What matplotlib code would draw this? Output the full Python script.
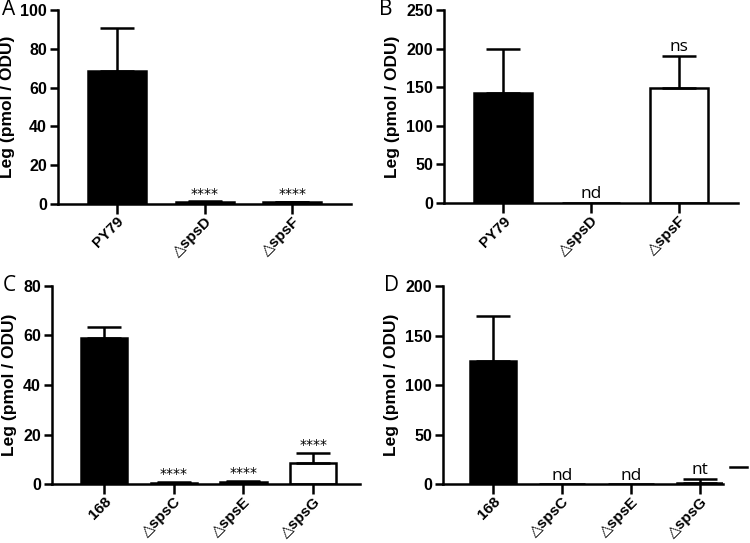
import numpy as np
import matplotlib.pyplot as plt
from matplotlib.lines import Line2D

plt.rcParams['font.family'] = ['Liberation Sans', 'DejaVu Sans']

# Panel A
a_labels = ["PY79", "△spsD", "△spsF"]
a_values = [68.5, 1.0, 0.8]
a_errors = [22.0, 0.3, 0.3]
a_colors = ["black", "black", "black"]
a_marks = ["", "****", "****"]

# Panel B
b_labels = ["PY79", "△spsD", "△spsF"]
b_values = [142.0, 0.0, 149.0]
b_errors = [57.0, 0.0, 41.0]
b_colors = ["black", "black", "white"]
b_marks = ["", "nd", "ns"]

# Panel C
c_labels = ["168", "△spsC", "△spsE", "△spsG"]
c_values = [58.8, 0.6, 0.9, 8.8]
c_errors = [4.6, 0.3, 0.3, 3.8]
c_colors = ["black", "black", "black", "white"]
c_marks = ["", "****", "****", "****"]

# Panel D
d_labels = ["168", "△spsC", "△spsE", "△spsG"]
d_values = [124.0, 0.0, 0.0, 1.5]
d_errors = [45.5, 0.0, 0.0, 4.0]
d_colors = ["black", "black", "black", "white"]
d_marks = ["", "nd", "nd", "nt"]

FS = 11.5
XFS = 11


def draw_panel(ax, labels, values, errors, colors, marks, ymax, step, xlim,
               letter, letter_x, mark_pad):
    x = np.arange(len(labels))
    for xi, v, e, c in zip(x, values, errors, colors):
        ax.bar(xi, v, width=0.66, color=c, edgecolor="black", linewidth=1.8, zorder=2)
        if e > 0:
            ax.errorbar(xi, v, yerr=[[0], [e]], fmt="none", ecolor="black",
                        elinewidth=1.8, capsize=12, capthick=1.8, zorder=3)
    for xi, v, e, m in zip(x, values, errors, marks):
        if not m:
            continue
        if m.startswith("*"):
            ax.text(xi, v + e + mark_pad, m, ha="center", va="bottom",
                    fontsize=10, family="DejaVu Sans", clip_on=False)
        else:
            ax.text(xi, v + e + mark_pad, m, ha="center", va="bottom",
                    fontsize=12.5, family=["Open Sans", "DejaVu Sans"], clip_on=False)
    ax.set_xlim(*xlim)
    ax.set_ylim(0, ymax)
    ax.set_yticks(np.arange(0, ymax + 1, step))
    ax.set_xticks(x)
    ax.set_xticklabels(labels, rotation=45, ha="right", rotation_mode="anchor",
                       fontsize=XFS, fontweight="bold")
    for t in ax.get_yticklabels():
        t.set_fontsize(FS)
        t.set_fontweight("bold")
    ax.set_ylabel("Leg (pmol / ODU)", fontsize=12.5, fontweight="bold", labelpad=4)
    ax.spines["top"].set_visible(False)
    ax.spines["right"].set_visible(False)
    ax.spines["left"].set_linewidth(1.8)
    ax.spines["bottom"].set_linewidth(1.8)
    ax.spines["bottom"].set_zorder(4)
    ax.tick_params(axis="y", direction="out", length=6, width=1.8, pad=2)
    ax.tick_params(axis="x", direction="out", length=7, width=1.8, pad=0.5)
    ax.text(letter_x, 1.0, letter, transform=ax.transAxes, fontsize=15,
            family=["Open Sans", "DejaVu Sans"], ha="left", va="center")


fig = plt.figure(figsize=(7.5, 5.43), dpi=100)

axA = fig.add_axes([0.0773, 0.6243, 0.391, 0.3573])
axB = fig.add_axes([0.592, 0.626, 0.392, 0.3556])
axC = fig.add_axes([0.0693, 0.108, 0.411, 0.3658])
axD = fig.add_axes([0.5907, 0.108, 0.373, 0.3653])

draw_panel(axA, a_labels, a_values, a_errors, a_colors, a_marks, 100, 20,
           (-0.67, 2.67), "A", -0.19, 0.3)
draw_panel(axB, b_labels, b_values, b_errors, b_colors, b_marks, 250, 50,
           (-0.67, 2.67), "B", -0.22, 2)
draw_panel(axC, c_labels, c_values, c_errors, c_colors, c_marks, 80, 20,
           (-0.74, 3.67), "C", -0.16, 0.4)
draw_panel(axD, d_labels, d_values, d_errors, d_colors, d_marks, 200, 50,
           (-0.72, 3.33), "D", -0.21, 0.5)

# stray dash at the right edge of panel D
fig.add_artist(Line2D([730 / 750, 747 / 750], [1 - 466.7 / 543, 1 - 466.7 / 543],
                      color="black", linewidth=1.8))

fig.savefig("out.png", dpi=100)
